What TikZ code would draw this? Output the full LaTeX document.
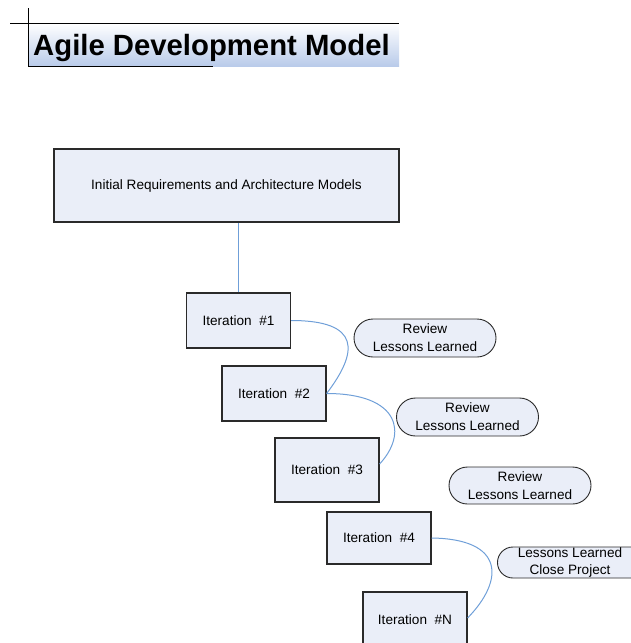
\documentclass[tikz,border=0pt]{standalone}
\usepackage{fontspec}
\setmainfont{Liberation Sans}
\usepackage{xcolor}
\usepackage{tikz}
\usetikzlibrary{shapes.misc}
\definecolor{boxfill}{HTML}{EAEEF8}
\definecolor{linkblue}{HTML}{6F9FD8}
\definecolor{titleblue}{HTML}{B9CBEA}
\definecolor{edge}{HTML}{2A2A2A}
\tikzset{
iterbox/.style={draw=edge, line width=1.2pt, fill=boxfill, minimum width=104pt, inner sep=0pt,
  font=\fontsize{13.6}{16}\selectfont},
notebox/.style={draw=edge, line width=0.9pt, fill=boxfill, rounded rectangle, inner sep=0pt,
  minimum height=38pt, minimum width=142pt, align=center, font=\fontsize{13.6}{18}\selectfont},
link/.style={draw=linkblue, line width=1pt},
}
\newcommand{\iter}[4]{
\node[iterbox, minimum height=#4] (#1) at (#2) {Iteration\ \ #3};
}
\begin{document}
\begin{tikzpicture}[x=1pt,y=-1pt]
\useasboundingbox (0,0) rectangle (631,643);
\clip (0,0) rectangle (631,643);

% title
\shade[top color=white, bottom color=titleblue] (28,23) rectangle (399,66);
\draw[line width=1pt] (10,23) -- (399,23);
\draw[line width=1pt] (28,8) -- (28,66) -- (213,66);
\node[anchor=base west, inner sep=0pt, font=\fontsize{29.3}{32}\selectfont\bfseries] (title) at (33,55) {Agile Development Model};

% boxes
\node[iterbox, minimum width=345pt, minimum height=73pt] (init) at (226.5,185.5) {Initial Requirements and Architecture Models};

\iter{it1}{238.5,320.5}{\#1}{55pt}
\iter{it2}{274,393.5}{\#2}{55pt}
\iter{it3}{327,470}{\#3}{64pt}
\iter{it4}{379,538}{\#4}{52pt}
\iter{itN}{415,620}{\#N}{56pt}

% notes
\node[notebox] (rev1) at (425,338) {Review\\Lessons Learned};
\node[notebox] (rev2) at (467.5,417) {Review\\Lessons Learned};
\node[notebox, minimum height=37pt] (rev3) at (520,485.5) {Review\\Lessons Learned};
\node[notebox, minimum height=31pt, minimum width=160pt, rounded rectangle right arc=none, font=\fontsize{13.6}{17}\selectfont] (close) at (583,562.5)
  {Lessons Learned\hspace*{26pt}\\Close Project\hspace*{26pt}};

% links
\draw[link] (it1.north) -- (it1.north |- init.south);
\draw[link] (it1.east) .. controls +(70,0) and +(32,-42) .. (it2.east);
\draw[link] (it2.east) .. controls +(74,0) and +(28,-30) .. ([yshift=6pt]it3.east);
\draw[link] (it4.east) .. controls +(73,1) and +(37,-38) .. ([yshift=2pt]itN.east);

\end{tikzpicture}
\end{document}
